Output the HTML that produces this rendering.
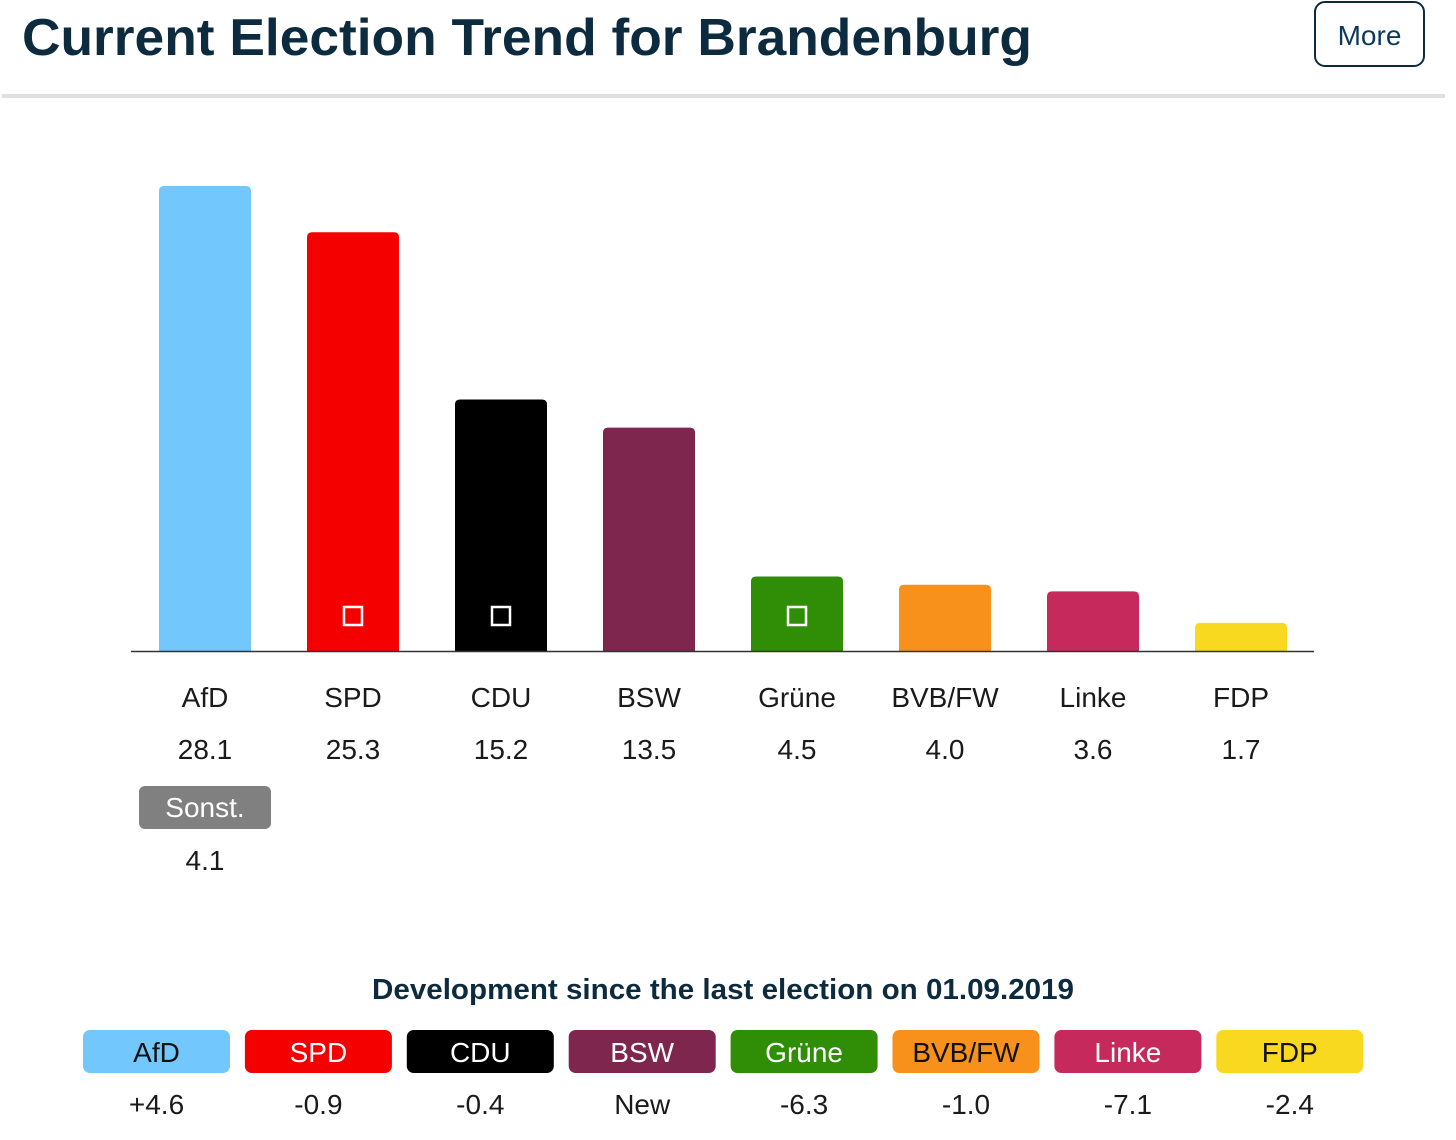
<!DOCTYPE html>
<html><head><meta charset="utf-8"><style>
html,body{margin:0;padding:0;background:#fff;}
svg{display:block;font-family:"Liberation Sans",Arial,sans-serif;}
</style></head><body>
<svg id="chart" width="1456" height="1140" viewBox="0 0 1456 1140">
<text x="22" y="55" font-size="52" font-weight="bold" fill="#0d2b3e" textLength="1010" lengthAdjust="spacingAndGlyphs">Current Election Trend for Brandenburg</text>
<g>
<rect x="1315" y="2" width="109" height="64" rx="10" fill="#fff" stroke="#0d2b3e" stroke-width="2"/>
<text x="1369.5" y="45" font-size="28" fill="#0d3a5a" text-anchor="middle">More</text>
</g>
<rect x="2" y="94" width="1443" height="4" fill="#e0e0e0"/>
<g id="bars"></g>
<line x1="131" y1="651.5" x2="1314" y2="651.5" stroke="#333" stroke-width="1.5"/>
<g id="labels"></g>
<g>
<rect x="139" y="786" width="132" height="43" rx="6" fill="#808080"/>
<text x="205" y="817" font-size="28" fill="#fff" text-anchor="middle">Sonst.</text>
</g>
<text x="205" y="870" font-size="28" fill="#1a1a1a" text-anchor="middle">4.1</text>
<text x="723" y="999" font-size="29" font-weight="bold" fill="#0d2b3e" text-anchor="middle" textLength="702" lengthAdjust="spacingAndGlyphs">Development since the last election on 01.09.2019</text>
<g id="changes"></g>
</svg>
<script>
const parties = ["AfD","SPD","CDU","BSW","Grüne","BVB/FW","Linke","FDP"];
const values = [28.1,25.3,15.2,13.5,4.5,4.0,3.6,1.7];
const valueLabels = ["28.1","25.3","15.2","13.5","4.5","4.0","3.6","1.7"];
const changes = ["+4.6","-0.9","-0.4","New","-6.3","-1.0","-7.1","-2.4"];
const colors = ["#72c8fc","#f40000","#000000","#7e264e","#2f8d06","#f7911c","#c62a5d","#f8d91f"];
const textColors = ["#111","#fff","#fff","#fff","#fff","#111","#fff","#111"];
const squareMarks = [false,true,true,false,true,false,false,false];

const NS="http://www.w3.org/2000/svg";
const baseY=651, pxPerUnit=16.55, barW=92;
const xCenter=i=>205+i*148;
const yScale=v=>baseY-v*pxPerUnit;
const chgCenter=i=>156.5+i*161.9;
function mk(tag,attrs,parent){const e=document.createElementNS(NS,tag);for(const k in attrs)e.setAttribute(k,attrs[k]);parent.appendChild(e);return e;}
const gb=document.getElementById('bars'), gl=document.getElementById('labels'), gc=document.getElementById('changes');
parties.forEach((p,i)=>{
  const top=yScale(values[i]), h=baseY-top, x=xCenter(i)-barW/2;
  const bar=mk('path',{d:`M${x},${baseY} V${top+5} Q${x},${top} ${x+5},${top} H${x+barW-5} Q${x+barW},${top} ${x+barW},${top+5} V${baseY} Z`,fill:colors[i]},gb);
  
  
  if(squareMarks[i]){
    const sq=mk('rect',{x:xCenter(i)-9,y:607,width:18,height:18,fill:'none',stroke:'#fff','stroke-width':2.5},gb);
    
    
  }
  const t=mk('text',{x:xCenter(i),y:707,'font-size':28,fill:'#1a1a1a','text-anchor':'middle'},gl);t.textContent=p;
  
  
  const v=mk('text',{x:xCenter(i),y:759,'font-size':28,fill:'#1a1a1a','text-anchor':'middle'},gl);v.textContent=valueLabels[i];
  
  
  const cx=chgCenter(i);
  const b=mk('rect',{x:cx-73.5,y:1030,width:147,height:43,rx:7,fill:colors[i]},gc);
  
  
  const bt=mk('text',{x:cx,y:1062,'font-size':28,fill:textColors[i],'text-anchor':'middle'},gc);bt.textContent=p;
  
  
  const ct=mk('text',{x:cx,y:1114,'font-size':28,fill:'#1a1a1a','text-anchor':'middle'},gc);ct.textContent=changes[i];
  
  
});
</script>
</body></html>
